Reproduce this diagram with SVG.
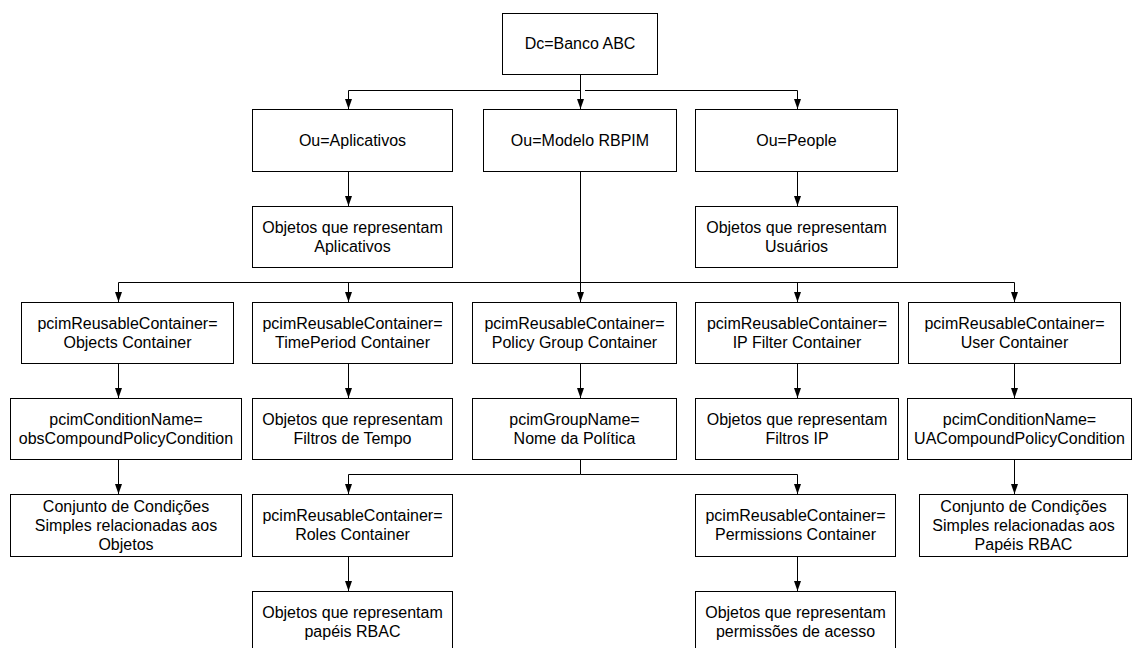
<svg xmlns="http://www.w3.org/2000/svg" width="1133" height="648" viewBox="0 0 1133 648">
<style>
.b{fill:#fff;stroke:#000;stroke-width:1}
.t{font-family:"Liberation Sans",Arial,sans-serif;font-size:16px;fill:#000;text-anchor:middle}
.c{fill:none;stroke:#000;stroke-width:1}
.a{marker-end:url(#arr)}
</style>
<defs>
<marker id="arr" markerUnits="userSpaceOnUse" markerWidth="10" markerHeight="7" refX="10" refY="3.5" orient="auto" viewBox="0 0 10 7">
<path d="M0,0 L10,3.5 L0,7 Z" fill="#000"/>
</marker>
</defs>
<rect width="1133" height="648" fill="#fff"/>
<g id="connectors">
<path class="c a" d="M580.5,74 V109"/>
<path class="c a" d="M580.5,90.5 H348.5 V109"/>
<path class="c a" d="M585,90.5 H797.5 V109"/>
<path class="c a" d="M348.5,171 V206"/>
<path class="c a" d="M797.5,171 V206"/>
<path class="c a" d="M580.5,171 V302"/>
<path class="c" d="M118.5,282.5 H1014.5"/>
<path class="c a" d="M118.5,282.5 V302"/>
<path class="c a" d="M348.5,282.5 V302"/>
<path class="c a" d="M797.5,282.5 V302"/>
<path class="c a" d="M1014.5,282.5 V302"/>
<path class="c a" d="M118.5,363 V398"/>
<path class="c a" d="M118.5,459 V494"/>
<path class="c a" d="M348.5,363 V398"/>
<path class="c a" d="M580.5,363 V398"/>
<path class="c a" d="M797.5,363 V398"/>
<path class="c a" d="M1014.5,363 V398"/>
<path class="c a" d="M1014.5,459 V494"/>
<path class="c" d="M580.5,459 V474.5"/>
<path class="c a" d="M580.5,474.5 H348.5 V494"/>
<path class="c a" d="M580.5,474.5 H797.5 V494"/>
<path class="c a" d="M348.5,556 V591"/>
<path class="c a" d="M797.5,556 V591"/>
</g>
<g id="dc"><rect class="b" x="502.5" y="13.5" width="155" height="61"/><text class="t" x="580" y="49">Dc=Banco ABC</text></g>
<g id="ou-aplicativos"><rect class="b" x="252.5" y="109.5" width="200" height="62"/><text class="t" x="352.5" y="146">Ou=Aplicativos</text></g>
<g id="ou-modelo"><rect class="b" x="483.5" y="109.5" width="193" height="62"/><text class="t" x="580" y="146">Ou=Modelo RBPIM</text></g>
<g id="ou-people"><rect class="b" x="695.5" y="109.5" width="202" height="62"/><text class="t" x="796.5" y="146">Ou=People</text></g>
<g id="obj-aplicativos"><rect class="b" x="252.5" y="206.5" width="200" height="61"/><text class="t" x="352.5" y="233">Objetos que representam</text><text class="t" x="352.5" y="252">Aplicativos</text></g>
<g id="obj-usuarios"><rect class="b" x="695.5" y="206.5" width="202" height="61"/><text class="t" x="796.5" y="233">Objetos que representam</text><text class="t" x="796.5" y="252">Usuários</text></g>
<g id="objects-container"><rect class="b" x="21.5" y="302.5" width="212" height="61"/><text class="t" x="127.5" y="329">pcimReusableContainer=</text><text class="t" x="127.5" y="348">Objects Container</text></g>
<g id="timeperiod-container"><rect class="b" x="252.5" y="302.5" width="200" height="61"/><text class="t" x="352.5" y="329">pcimReusableContainer=</text><text class="t" x="352.5" y="348">TimePeriod Container</text></g>
<g id="policygroup-container"><rect class="b" x="472.5" y="302.5" width="204" height="61"/><text class="t" x="574.5" y="329">pcimReusableContainer=</text><text class="t" x="574.5" y="348">Policy Group Container</text></g>
<g id="ipfilter-container"><rect class="b" x="695.5" y="302.5" width="203" height="61"/><text class="t" x="797" y="329">pcimReusableContainer=</text><text class="t" x="797" y="348">IP Filter Container</text></g>
<g id="user-container"><rect class="b" x="908.5" y="302.5" width="212" height="61"/><text class="t" x="1014.5" y="329">pcimReusableContainer=</text><text class="t" x="1014.5" y="348">User Container</text></g>
<g id="obs-condition"><rect class="b" x="10.5" y="398.5" width="231" height="61"/><text class="t" x="126" y="425">pcimConditionName=</text><text class="t" x="126" y="444">obsCompoundPolicyCondition</text></g>
<g id="filtros-tempo"><rect class="b" x="252.5" y="398.5" width="200" height="61"/><text class="t" x="352.5" y="425">Objetos que representam</text><text class="t" x="352.5" y="444">Filtros de Tempo</text></g>
<g id="groupname"><rect class="b" x="472.5" y="398.5" width="204" height="61"/><text class="t" x="574.5" y="425">pcimGroupName=</text><text class="t" x="574.5" y="444">Nome da Política</text></g>
<g id="filtros-ip"><rect class="b" x="695.5" y="398.5" width="203" height="61"/><text class="t" x="797" y="425">Objetos que representam</text><text class="t" x="797" y="444">Filtros IP</text></g>
<g id="ua-condition"><rect class="b" x="907.5" y="398.5" width="224" height="61"/><text class="t" x="1019.5" y="425">pcimConditionName=</text><text class="t" x="1019.5" y="444">UACompoundPolicyCondition</text></g>
<g id="conjunto-objetos"><rect class="b" x="10.5" y="494.5" width="231" height="62"/><text class="t" x="126" y="512">Conjunto de Condições</text><text class="t" x="126" y="531">Simples relacionadas aos</text><text class="t" x="126" y="550">Objetos</text></g>
<g id="roles-container"><rect class="b" x="252.5" y="494.5" width="200" height="62"/><text class="t" x="352.5" y="521">pcimReusableContainer=</text><text class="t" x="352.5" y="540">Roles Container</text></g>
<g id="permissions-container"><rect class="b" x="695.5" y="494.5" width="200" height="62"/><text class="t" x="795.5" y="521">pcimReusableContainer=</text><text class="t" x="795.5" y="540">Permissions Container</text></g>
<g id="conjunto-papeis"><rect class="b" x="919.5" y="494.5" width="208" height="62"/><text class="t" x="1023.5" y="512">Conjunto de Condições</text><text class="t" x="1023.5" y="531">Simples relacionadas aos</text><text class="t" x="1023.5" y="550">Papéis RBAC</text></g>
<g id="obj-papeis"><rect class="b" x="252.5" y="591.5" width="200" height="62"/><text class="t" x="352.5" y="618">Objetos que representam</text><text class="t" x="352.5" y="637">papéis RBAC</text></g>
<g id="obj-permissoes"><rect class="b" x="695.5" y="591.5" width="200" height="62"/><text class="t" x="795.5" y="618">Objetos que representam</text><text class="t" x="795.5" y="637">permissões de acesso</text></g>
</svg>
